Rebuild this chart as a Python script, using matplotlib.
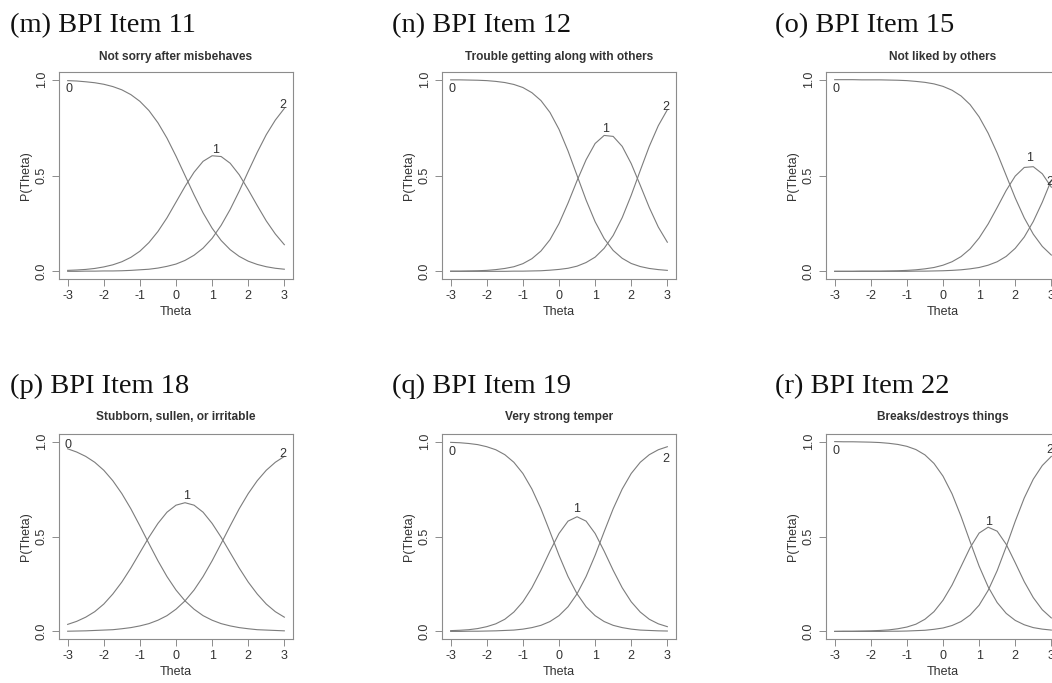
import matplotlib
matplotlib.use("Agg")
from matplotlib import pyplot as plt

# theta grid and category response curves
theta = [-3, -2.75, -2.5, -2.25, -2, -1.75, -1.5, -1.25, -1, -0.75, -0.5, -0.25,
         0, 0.25, 0.5, 0.75, 1, 1.25, 1.5, 1.75, 2, 2.25, 2.5, 2.75, 3]

panel_tags = ["(m) BPI Item 11", "(n) BPI Item 12", "(o) BPI Item 15",
              "(p) BPI Item 18", "(q) BPI Item 19", "(r) BPI Item 22"]
item_titles = ["Not sorry after misbehaves", "Trouble getting along with others",
               "Not liked by others", "Stubborn, sullen, or irritable",
               "Very strong temper", "Breaks/destroys things"]
cat_names = ["0", "1", "2"]

p0_m = [.995, .993, .989, .984, .976, .964, .947, .922, .887, .839, .775, .695, .601, .500, .399, .305, .225, .161, .113, .078, .053, .036, .024, .016, .011]
p1_m = [.005, .007, .010, .015, .023, .034, .050, .073, .105, .150, .208, .279, .361, .443, .517, .574, .603, .599, .564, .504, .426, .343, .263, .195, .139]
p2_m = [.000, .000, .001, .001, .002, .002, .003, .005, .008, .011, .017, .026, .038, .057, .084, .121, .172, .240, .323, .418, .521, .621, .713, .789, .850]

p0_n = [.999, .999, .998, .997, .995, .991, .985, .975, .959, .932, .891, .829, .741, .628, .500, .372, .259, .171, .109, .068, .041, .025, .015, .009, .005]
p1_n = [.001, .001, .002, .003, .005, .009, .015, .024, .040, .066, .106, .165, .249, .356, .473, .582, .667, .709, .704, .652, .562, .449, .333, .231, .152]
p2_n = [.000, .000, .000, .000, .000, .000, .000, .001, .001, .002, .003, .006, .010, .016, .027, .046, .074, .120, .187, .280, .397, .526, .652, .760, .843]

p0_o = [1.000, 1.000, 1.000, .999, .999, .999, .998, .997, .995, .991, .986, .978, .965, .945, .915, .870, .806, .721, .617, .500, .383, .279, .194, .130, .085]
p1_o = [.000, .000, .000, .001, .001, .001, .002, .003, .005, .008, .013, .020, .032, .050, .077, .117, .174, .247, .333, .422, .497, .542, .546, .509, .439]
p2_o = [.000, .000, .000, .000, .000, .000, .000, .000, .000, .001, .001, .002, .003, .005, .008, .013, .020, .032, .050, .078, .120, .179, .260, .361, .476]

p0_p = [.962, .945, .922, .891, .849, .794, .726, .646, .556, .463, .372, .289, .218, .161, .117, .083, .059, .041, .029, .020, .014, .009, .007, .005, .003]
p1_p = [.037, .053, .075, .104, .144, .197, .260, .334, .415, .496, .569, .628, .665, .678, .665, .628, .569, .496, .415, .334, .260, .197, .144, .104, .075]
p2_p = [.001, .002, .003, .005, .007, .009, .014, .020, .029, .041, .059, .083, .117, .161, .218, .289, .372, .463, .556, .646, .726, .794, .849, .891, .922]

p0_q = [.996, .994, .990, .984, .973, .957, .931, .891, .832, .750, .646, .525, .401, .289, .198, .130, .083, .052, .032, .020, .012, .007, .005, .003, .002]
p1_q = [.004, .006, .009, .015, .025, .040, .064, .102, .156, .230, .322, .423, .516, .581, .604, .581, .516, .423, .322, .230, .156, .102, .064, .040, .025]
p2_q = [.000, .000, .001, .001, .002, .003, .005, .007, .012, .020, .032, .052, .083, .130, .198, .289, .401, .525, .646, .750, .832, .891, .931, .957, .973]

p0_r = [1.000, .999, .999, .998, .997, .995, .991, .985, .975, .958, .930, .885, .818, .725, .606, .473, .344, .235, .152, .095, .058, .035, .020, .012, .007]
p1_r = [.000, .001, .001, .002, .003, .005, .008, .014, .023, .038, .064, .104, .164, .244, .342, .441, .518, .549, .528, .459, .362, .262, .178, .114, .071]
p2_r = [.000, .000, .000, .000, .000, .000, .001, .001, .002, .004, .006, .011, .018, .031, .052, .086, .138, .216, .320, .446, .580, .703, .802, .874, .922]

curves = [(p0_m, p1_m, p2_m), (p0_n, p1_n, p2_n), (p0_o, p1_o, p2_o),
          (p0_p, p1_p, p2_p), (p0_q, p1_q, p2_q), (p0_r, p1_r, p2_r)]

# where the category numbers sit in each panel (data coords)
label_pos = [
    [(-2.97, 0.95), (1.09, 0.635), (2.97, 0.87)],
    [(-2.95, 0.95), (1.28, 0.745), (2.97, 0.86)],
    [(-2.95, 0.95), (2.41, 0.59), (2.97, 0.465)],
    [(-2.98, 0.98), (0.29, 0.715), (2.97, 0.935)],
    [(-2.97, 0.945), (0.50, 0.645), (2.95, 0.91)],
    [(-2.97, 0.95), (1.27, 0.575), (2.97, 0.955)],
]

W, H = 1052, 683
fig = plt.figure(figsize=(W / 100, H / 100), dpi=100)

col_left = [59, 442, 826]
row_top = [72, 434]
row_h = [207, 205]
ax_w = 234
tag_x = [10, 392, 775]
tag_base = [32, 393]
sub_y = [57, 417]

line_col = "#7c7c7c"
frame_col = "#8c8c8c"
txt_col = "#333333"
sans = "Liberation Sans"

for i in range(6):
    r, c = divmod(i, 3)
    left = col_left[c] / W
    bottom = 1 - (row_top[r] + row_h[r]) / H
    ax = fig.add_axes([left, bottom, ax_w / W, row_h[r] / H])
    for ys in curves[i]:
        ax.plot(theta, ys, color=line_col, lw=0.8)
    for name, (lx, ly) in zip(cat_names, label_pos[i]):
        ax.text(lx, ly, name, ha="center", va="center", fontsize=9,
                family=sans, color=txt_col)
    ax.set_xlim(-3.24, 3.24)
    ax.set_ylim(-0.04, 1.04)
    ax.set_xticks([-3, -2, -1, 0, 1, 2, 3])
    ax.set_xticklabels(["-3", "-2", "-1", "0", "1", "2", "3"])
    ax.set_yticks([0, 0.5, 1])
    ax.set_yticklabels(["0.0", "0.5", "1.0"], rotation=90, va="center")
    ax.tick_params(length=5, width=0.7, color=frame_col, labelsize=9,
                   labelcolor=txt_col, pad=3)
    for lab in ax.get_xticklabels() + ax.get_yticklabels():
        lab.set_family(sans)
    for sp in ax.spines.values():
        sp.set_color(frame_col)
        sp.set_linewidth(0.8)
    ax.set_xlabel("Theta", fontsize=9, family=sans, color=txt_col, labelpad=3)
    ax.set_ylabel("P(Theta)", fontsize=9, family=sans, color=txt_col, labelpad=3)

    cx = (col_left[c] + ax_w / 2) / W
    fig.text(cx, 1 - sub_y[r] / H, item_titles[i], ha="center", va="center",
             fontsize=8.6, fontweight="bold", family=sans, color=txt_col)
    fig.text(tag_x[c] / W, 1 - tag_base[r] / H, panel_tags[i], ha="left",
             va="baseline", fontsize=20.5, family="Liberation Serif", color="#111111")

fig.savefig("out.png", dpi=100)
